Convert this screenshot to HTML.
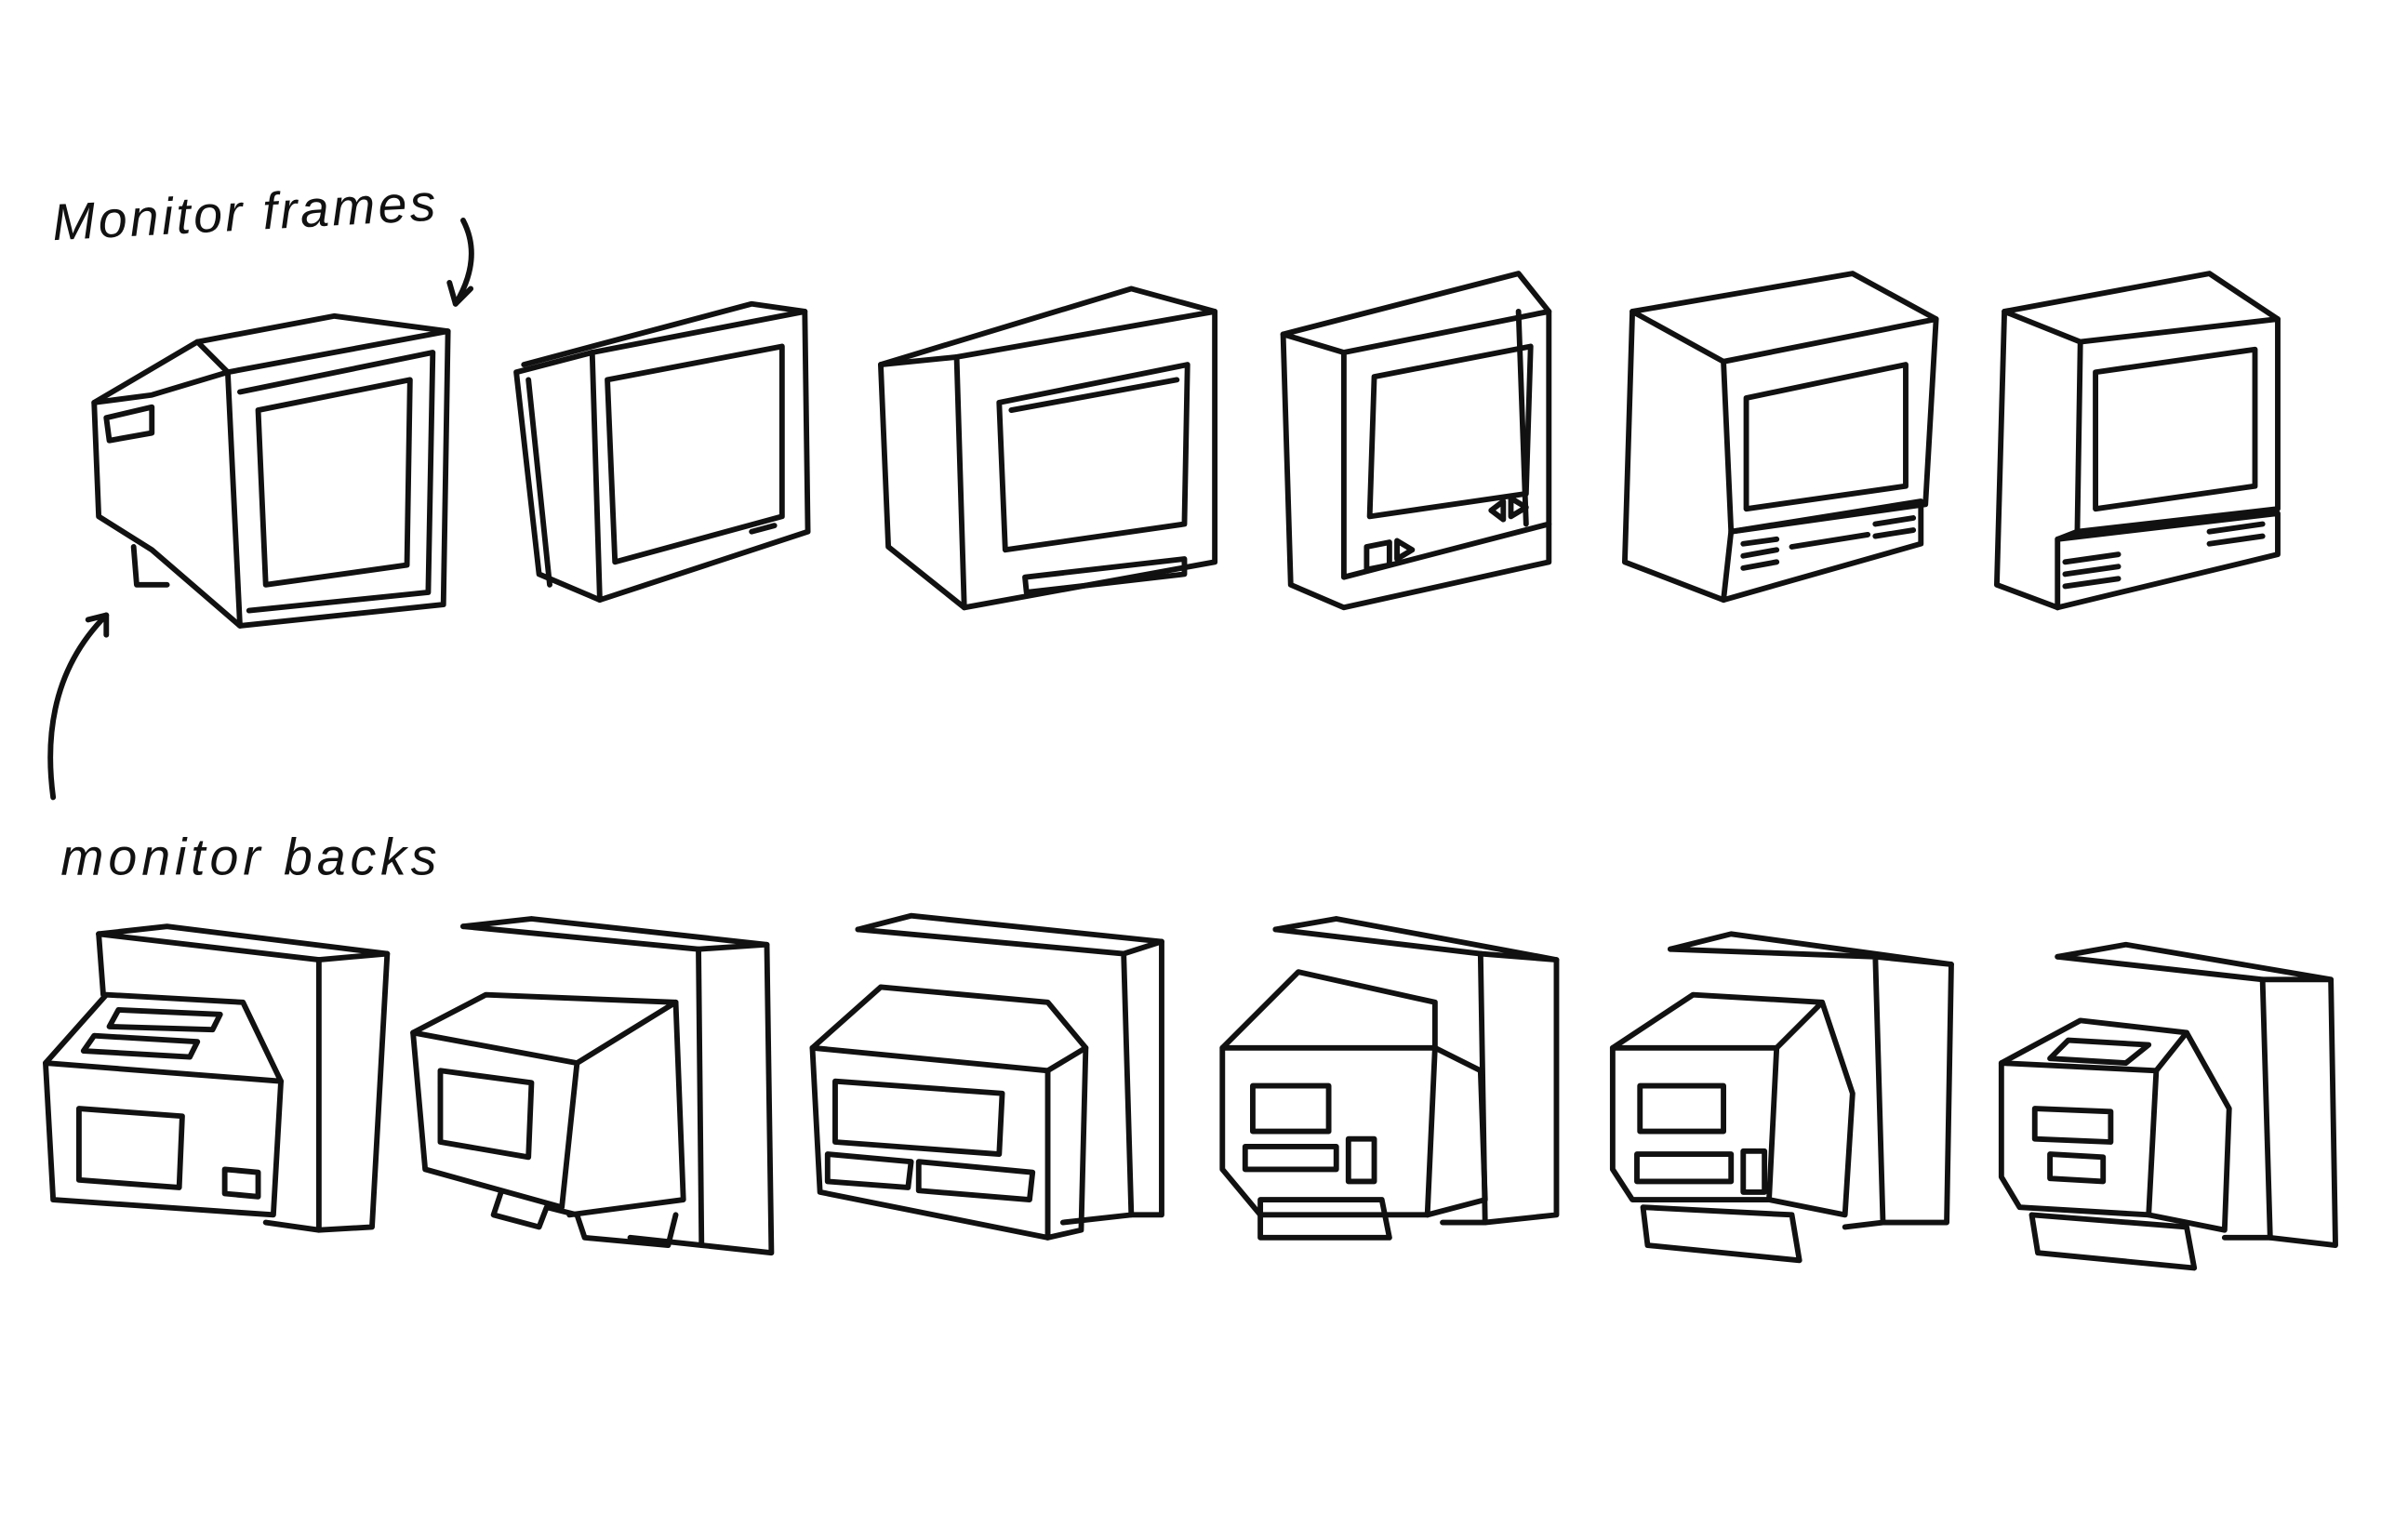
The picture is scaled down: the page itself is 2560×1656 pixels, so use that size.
<!DOCTYPE html>
<html><head><meta charset="utf-8">
<style>
html,body{margin:0;padding:0;background:#fff;}
svg{display:block;}
text{font-family:"Liberation Sans",sans-serif;font-size:34px;fill:#111;}
</style></head>
<body>
<svg width="2560" height="1656" viewBox="0 0 1568 1014" xmlns="http://www.w3.org/2000/svg">
<g fill="none" stroke="#111" stroke-width="3.6" stroke-linejoin="round" stroke-linecap="round">
<text x="35" y="158" stroke="none" style="font-style:italic;letter-spacing:2px" transform="rotate(-3 35 158)">Monitor frames</text>
<text x="40" y="576" stroke="none" style="font-style:italic;letter-spacing:3px">monitor backs</text>
<path d="M305 145 Q318 170 300 200"/><path d="M296 186 L300 200 L310 190"/>
<path d="M35 525 Q25 450 70 405"/><path d="M58 408 L70 405 L70 418"/>

<!-- TOP ROW -->
<path d="M150 245 L295 218 L292 398 L158 412 Z"/>
<path d="M158 258 L285 232 L282 390 L164 402"/>
<path d="M170 270 L270 250 L268 372 L175 385 Z"/>
<path d="M150 245 L130 225 L220 208 L295 218"/>
<path d="M130 225 L62 265 L65 340 L100 362 L158 412"/>
<path d="M62 265 L100 260 L150 245"/>
<path d="M70 275 L100 268 L100 285 L72 290 Z"/>
<path d="M88 360 L90 385 L110 385"/>

<path d="M390 232 L530 205 L532 350 L395 395 Z"/>
<path d="M400 250 L515 228 L515 340 L405 370 Z"/>
<path d="M390 232 L340 245 L355 378 L395 395"/>
<path d="M345 240 L495 200 L530 205"/>
<path d="M348 250 L362 385"/>
<path d="M495 350 L510 346"/>

<path d="M630 235 L800 205 L800 370 L635 400 Z"/>
<path d="M658 265 L782 240 L780 345 L662 362 Z"/>
<path d="M666 270 L775 250"/>
<path d="M630 235 L580 240 L585 360 L635 400"/>
<path d="M580 240 L745 190 L800 205"/>
<path d="M675 380 L780 368 L780 378 L676 390 Z"/>

<path d="M885 232 L1020 205 L1020 345 L885 380 Z"/>
<path d="M905 248 L1008 228 L1005 325 L902 340 Z"/>
<path d="M885 232 L845 220 L850 385 L885 400 L1020 370 L1020 345"/>
<path d="M845 220 L1000 180 L1020 205"/>
<path d="M1000 205 L1005 345"/>
<path d="M900 360 L915 357 L915 372 L900 375 Z"/>
<path d="M920 356 L930 362 L920 368 Z"/>
<path d="M990 330 L982 336 L990 342 Z"/><path d="M995 328 L1005 334 L995 340 Z"/>

<path d="M1135 238 L1275 210 L1268 332 L1140 350 L1135 238"/>
<path d="M1150 262 L1255 240 L1255 320 L1150 335 Z"/>
<path d="M1135 238 L1075 205 L1070 370 L1135 395"/>
<path d="M1075 205 L1220 180 L1275 210"/>
<path d="M1140 350 L1265 330 L1265 358 L1135 395 L1140 350"/>
<path d="M1148 358 L1170 355 M1148 366 L1170 362 M1148 374 L1170 370 M1235 345 L1260 341 M1235 353 L1260 349"/>
<path d="M1180 360 L1230 352"/>

<path d="M1370 225 L1500 210 L1500 335 L1368 350 Z"/>
<path d="M1380 245 L1485 230 L1485 320 L1380 335 Z"/>
<path d="M1370 225 L1320 205 L1315 385 L1355 400"/>
<path d="M1320 205 L1455 180 L1500 210"/>
<path d="M1355 355 L1500 338 L1500 365 L1355 400 Z"/>
<path d="M1368 350 L1355 355"/>
<path d="M1360 370 L1395 365 M1360 378 L1395 373 M1360 386 L1395 381 M1455 350 L1490 345 M1455 358 L1490 353"/>

<!-- BOTTOM ROW -->
<path d="M65 615 L210 632 L210 810 L175 805"/>
<path d="M65 615 L110 610 L255 628 L210 632"/>
<path d="M255 628 L245 808 L210 810"/>
<path d="M65 615 L68 655"/>
<path d="M30 700 L185 712 L180 800 L35 790 Z"/>
<path d="M30 700 L70 655 L160 660 L185 712"/>
<path d="M78 665 L145 668 L140 678 L72 676 Z"/>
<path d="M62 682 L130 686 L125 696 L55 692 Z"/>
<path d="M52 730 L120 735 L118 782 L52 777 Z"/>
<path d="M148 770 L170 772 L170 788 L148 786 Z"/>

<path d="M305 610 L460 625 L462 820 L415 815"/>
<path d="M305 610 L350 605 L505 622 L460 625"/>
<path d="M505 622 L508 825 L462 820"/>
<path d="M272 680 L380 700 L370 795 L280 770 Z"/>
<path d="M272 680 L320 655 L445 660 L380 700"/>
<path d="M445 660 L450 790 L375 800"/>
<path d="M290 705 L350 713 L348 762 L290 752 Z"/>
<path d="M330 785 L325 800 L355 808 L360 795 L380 800 L385 815 L440 820 L445 800"/>

<path d="M565 612 L740 628 L745 800 L700 805"/>
<path d="M565 612 L600 603 L765 620 L740 628"/>
<path d="M765 620 L765 800 L745 800"/>
<path d="M535 690 L690 705 L690 815 L540 785 Z"/>
<path d="M535 690 L580 650 L690 660 L715 690 L690 705"/>
<path d="M715 690 L712 810 L690 815"/>
<path d="M550 712 L660 720 L658 760 L550 752 Z"/>
<path d="M545 760 L600 765 L598 782 L545 778 Z M605 765 L680 772 L678 790 L605 784 Z"/>

<path d="M840 612 L975 628 L978 805 L950 805"/>
<path d="M840 612 L880 605 L1025 632 L975 628"/>
<path d="M1025 632 L1025 800 L978 805"/>
<path d="M805 690 L945 690 L940 800 L830 800 L805 770 Z"/>
<path d="M805 690 L855 640 L945 660 L945 690"/>
<path d="M945 690 L975 705 L978 790 L940 800"/>
<path d="M825 715 L875 715 L875 745 L825 745 Z"/>
<path d="M820 755 L880 755 L880 770 L820 770 Z"/>
<path d="M888 750 L905 750 L905 778 L888 778 Z"/>
<path d="M830 790 L910 790 L915 815 L830 815 Z"/>

<path d="M1100 625 L1235 630 L1240 805 L1215 808"/>
<path d="M1100 625 L1140 615 L1285 635 L1235 630"/>
<path d="M1285 635 L1282 805 L1240 805"/>
<path d="M1062 690 L1170 690 L1165 790 L1075 790 L1062 770 Z"/>
<path d="M1062 690 L1115 655 L1200 660 L1170 690"/>
<path d="M1200 660 L1220 720 L1215 800 L1165 790"/>
<path d="M1080 715 L1135 715 L1135 745 L1080 745 Z"/>
<path d="M1078 760 L1140 760 L1140 778 L1078 778 Z"/>
<path d="M1148 758 L1162 758 L1162 785 L1148 785 Z"/>
<path d="M1082 795 L1180 800 L1185 830 L1085 820 Z"/>

<path d="M1355 630 L1490 645 L1495 815 L1465 815"/>
<path d="M1355 630 L1400 622 L1535 645 L1490 645"/>
<path d="M1535 645 L1538 820 L1495 815"/>
<path d="M1318 700 L1420 705 L1415 800 L1330 795 L1318 775 Z"/>
<path d="M1318 700 L1370 672 L1440 680 L1420 705"/>
<path d="M1440 680 L1468 730 L1465 810 L1415 800"/>
<path d="M1362 685 L1415 688 L1400 700 L1350 697 Z"/>
<path d="M1340 730 L1390 732 L1390 752 L1340 750 Z"/>
<path d="M1350 760 L1385 762 L1385 778 L1350 776 Z"/>
<path d="M1338 800 L1440 808 L1445 835 L1342 825 Z"/>
</g>
</svg>
</body></html>
